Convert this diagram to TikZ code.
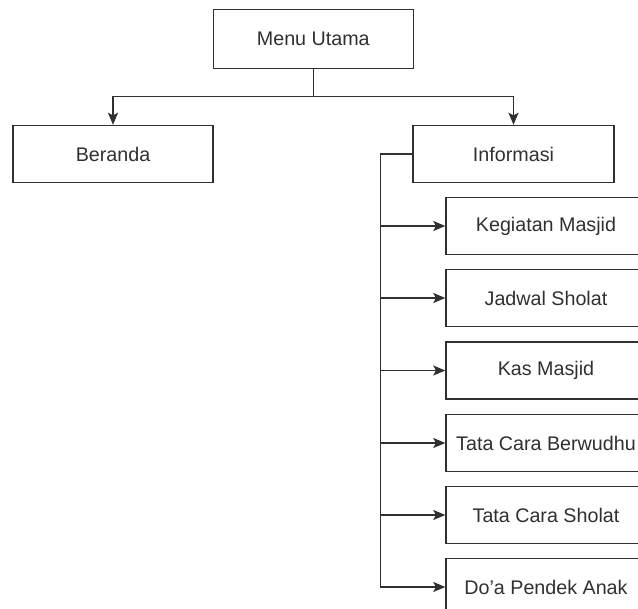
\documentclass[tikz,border=0pt]{standalone}
\usepackage{fontspec}
\setmainfont{Liberation Sans}
\usetikzlibrary{arrows.meta}
\definecolor{ink}{HTML}{303030}
\begin{document}
\begin{tikzpicture}[x=1pt,y=-1pt,
  box/.style={draw=ink, line width=1.4pt, rectangle, inner sep=0pt, text=ink,
    font=\fontsize{19.7}{23}\selectfont},
  conn/.style={draw=ink, line width=1.4pt},
  arr/.style={conn, -{Stealth[length=12pt,width=10pt,inset=2.5pt]}}]
\useasboundingbox (0,0) rectangle (638,609);
\clip (0,0) rectangle (638,609);
\node[box, minimum width=200pt, minimum height=59pt] (menu) at (313.3,38.8) {Menu Utama};
\node[box, minimum width=200pt, minimum height=57pt] (beranda) at (113,154) {Beranda};
\node[box, minimum width=201pt, minimum height=57pt] (info) at (513.5,154) {Informasi};
\node[box, minimum width=200pt, minimum height=57pt] (c1) at (546,226) {Kegiatan Masjid};
\node[box, minimum width=200pt, minimum height=57pt] (c2) at (546,298) {Jadwal Sholat};
\node[box, minimum width=200pt, minimum height=57pt] (c3) at (546,370.5) {Kas Masjid};
\node[box, minimum width=200pt, minimum height=57pt] (c4) at (546,443) {Tata Cara Berwudhu};
\node[box, minimum width=200pt, minimum height=57pt] (c5) at (546,515) {Tata Cara Sholat};
\node[box, minimum width=200pt, minimum height=57pt] (c6) at (546,587) {Do'a Pendek Anak};
\coordinate (j) at (313.3,96.7);
\coordinate (bus) at (380.3,154);
\draw[conn] (menu.south) -- (j);
\draw[arr] (j) -| (beranda.north);
\draw[arr] (j) -| (info.north);
\draw[conn] (info.west) -- (bus);
\foreach \c in {c1,c2,c3,c4,c5,c6}{\draw[arr] (bus) |- (\c.west);}
\end{tikzpicture}
\end{document}
